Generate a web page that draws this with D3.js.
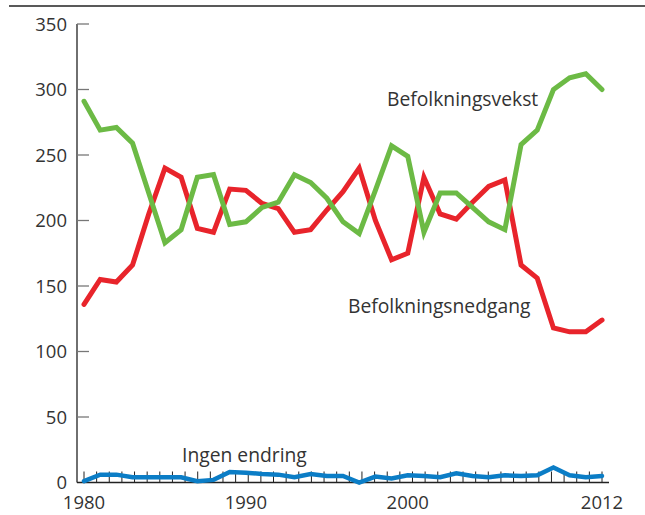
<!DOCTYPE html>
<html>
<head>
<meta charset="utf-8">
<script src="https://cdn.jsdelivr.net/npm/d3@7"></script>
<style>
  html, body { margin: 0; padding: 0; background: #fff; }
  svg text { font-family: "Open Sans", "DejaVu Sans", sans-serif; fill: #333; }
</style>
</head>
<body>
<div id="chart"></div>
<script>
(function () {
  'use strict';

  var years = d3.range(1980, 2013);

  // Befolkningsvekst
  var growth = [291, 269, 271, 259, 221, 183, 193, 233, 235, 197, 199, 210, 214, 235, 229, 217,
    199, 190, 223, 257, 249, 191, 221, 221, 210, 199, 193, 258, 269, 300, 309, 312, 300];
  // Befolkningsnedgang
  var decline = [136, 155, 153, 166, 205, 240, 233, 194, 191, 224, 223, 213, 209, 191, 193, 208,
    222, 240, 200, 170, 175, 233, 205, 201, 214, 226, 231, 166, 156, 118, 115, 115, 124];
  // Ingen endring
  var noChange = [1, 6, 6, 4, 4, 4, 4, 1, 2, 8, 7.5, 6.5, 6, 4, 6.5, 5,
    5, 0, 4.5, 3, 5.5, 5, 4, 7, 5, 4, 5.5, 5, 5.5, 11.5, 5.5, 4, 5];

  var yTicks = [0, 50, 100, 150, 200, 250, 300, 350];
  var xLabels = [1980, 1990, 2000, 2012];
  var minorTickCount = 42;

  var series = [
    { name: 'Befolkningsnedgang', values: decline, color: '#e8242b', width: 5 },
    { name: 'Befolkningsvekst', values: growth, color: '#6cba45', width: 5 },
    { name: 'Ingen endring', values: noChange, color: '#0b7dc6', width: 4.5 }
  ];

  var WIDTH = 645;
  var HEIGHT = 515;

  var svg = d3.select('#chart').append('svg')
    .attr('width', WIDTH)
    .attr('height', HEIGHT);

  var x = d3.scaleLinear().domain([1980, 2012]).range([84, 602]);
  var y = d3.scaleLinear().domain([0, 350]).range([482.5, 24]);

  // top rule
  svg.append('line')
    .attr('x1', 9).attr('x2', WIDTH)
    .attr('y1', 6).attr('y2', 6)
    .attr('stroke', '#222')
    .attr('stroke-width', 1.5);

  // y axis
  var yAxis = svg.append('g').attr('class', 'y axis');
  yAxis.append('line')
    .attr('x1', 77).attr('x2', 77)
    .attr('y1', y(350)).attr('y2', y(0))
    .attr('stroke', '#222')
    .attr('stroke-width', 1.3);
  yAxis.selectAll('line.tick')
    .data(yTicks.filter(function (d) { return d > 0; }))
    .enter().append('line')
    .attr('class', 'tick')
    .attr('x1', 77).attr('x2', 89)
    .attr('y1', function (d) { return y(d); })
    .attr('y2', function (d) { return y(d); })
    .attr('stroke', '#777')
    .attr('stroke-width', 1.3);
  yAxis.selectAll('text')
    .data(yTicks)
    .enter().append('text')
    .attr('x', 67)
    .attr('y', function (d) { return y(d); })
    .attr('dy', '0.36em')
    .attr('text-anchor', 'end')
    .style('font-size', '18.5px')
    .text(function (d) { return d; });

  // x axis
  var minorTicks = d3.range(minorTickCount).map(function (i) {
    return 1980 + i * 32 / (minorTickCount - 1);
  });
  var xAxis = svg.append('g').attr('class', 'x axis');
  xAxis.selectAll('line.tick')
    .data(minorTicks)
    .enter().append('line')
    .attr('class', 'tick')
    .attr('x1', function (d) { return x(d); })
    .attr('x2', function (d) { return x(d); })
    .attr('y1', y(0) - 11).attr('y2', y(0))
    .attr('stroke', '#222')
    .attr('stroke-width', 1);
  xAxis.selectAll('text')
    .data(xLabels)
    .enter().append('text')
    .attr('x', function (d) { return x(d); })
    .attr('y', 509)
    .attr('text-anchor', 'middle')
    .style('font-size', '18.5px')
    .text(function (d) { return d; });

  // lines
  var line = d3.line()
    .x(function (d, i) { return x(years[i]); })
    .y(function (d) { return y(d); })
    .curve(d3.curveLinear);

  svg.append('g').attr('class', 'lines')
    .selectAll('path')
    .data(series)
    .enter().append('path')
    .attr('d', function (s) { return line(s.values); })
    .attr('fill', 'none')
    .attr('stroke', function (s) { return s.color; })
    .attr('stroke-width', function (s) { return s.width; })
    .attr('stroke-linejoin', 'miter')
    .attr('stroke-linecap', 'round');

  // x baseline drawn over the blue line
  xAxis.append('line')
    .attr('x1', 77).attr('x2', 609)
    .attr('y1', y(0)).attr('y2', y(0))
    .attr('stroke', '#222')
    .attr('stroke-width', 1.5);

  // series labels
  var labels = [
    { text: 'Befolkningsvekst', x: 387, y: 106 },
    { text: 'Befolkningsnedgang', x: 348, y: 313 },
    { text: 'Ingen endring', x: 182, y: 462 }
  ];
  svg.append('g').attr('class', 'labels')
    .selectAll('text')
    .data(labels)
    .enter().append('text')
    .attr('x', function (d) { return d.x; })
    .attr('y', function (d) { return d.y; })
    .style('font-size', '19.3px')
    .text(function (d) { return d.text; });
})();
</script>
</body>
</html>
